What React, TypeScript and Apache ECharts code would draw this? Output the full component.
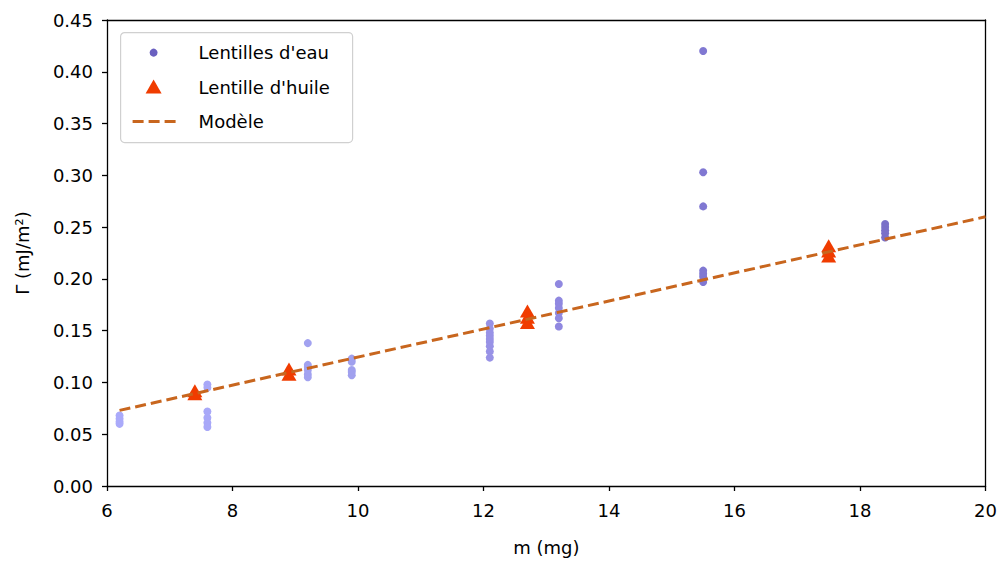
import React, { useEffect, useRef } from "react";
import * as echarts from "echarts";

// Water lenses: mass (mg) and surface energy (mJ/m²)
const waterMass = [6.2, 7.6, 9.2, 9.9, 12.1, 13.2, 15.5, 18.4];
const waterGamma: number[][] = [
  [0.068, 0.065, 0.062, 0.060],
  [0.098, 0.095, 0.072, 0.066, 0.061, 0.057],
  [0.138, 0.117, 0.115, 0.112, 0.108, 0.105],
  [0.123, 0.120, 0.112, 0.110, 0.107],
  [0.157, 0.152, 0.148, 0.145, 0.142, 0.139, 0.135, 0.130, 0.124],
  [0.195, 0.179, 0.176, 0.172, 0.167, 0.162, 0.154],
  [0.420, 0.303, 0.270, 0.208, 0.205, 0.202, 0.197],
  [0.253, 0.250, 0.247, 0.244, 0.240],
];
const waterColors = ["#aaaafa", "#a8a8f8", "#a2a2f0", "#a0a0ee", "#9892e6", "#9088e0", "#8078d2", "#7a70c8"];

// Oil lens
const oilMass = [7.4, 7.4, 8.9, 8.9, 12.7, 12.7, 12.7, 17.5, 17.5, 17.5];
const oilGamma = [0.092, 0.089, 0.113, 0.108, 0.169, 0.163, 0.158, 0.232, 0.227, 0.222];

// Model line
const modelMass = [6.2, 20];
const modelGamma = [0.073, 0.26];

const xTicks = [6, 8, 10, 12, 14, 16, 18, 20];
const yTicks = [0, 0.05, 0.1, 0.15, 0.2, 0.25, 0.3, 0.35, 0.4, 0.45];

const legendLabels = ["Lentilles d'eau", "Lentille d'huile", "Modèle"];

const FONT = "DejaVu Sans";
const FS = 18;

export default function App() {
  const ref = useRef<HTMLDivElement>(null);
  useEffect(() => {
    if (!ref.current) return;
    const chart = echarts.init(ref.current, null, { renderer: "svg" });

    const waterData: any[] = [];
    waterMass.forEach((m, i) => {
      waterGamma[i].forEach((g) => {
        waterData.push({ value: [m, g], itemStyle: { color: waterColors[i] } });
      });
    });
    const oilData = oilMass.map((m, i) => [m, oilGamma[i]]);
    const modelData = modelMass.map((m, i) => [m, modelGamma[i]]);

    const axisText = { color: "#000", fontFamily: FONT, fontSize: FS };
    const frameLine = { show: true, onZero: false, lineStyle: { color: "#000", width: 1.3 } };
    const xMin = xTicks[0];
    const xMax = xTicks[xTicks.length - 1];
    const yMin = yTicks[0];
    const yMax = yTicks[yTicks.length - 1];

    chart.setOption({
      animation: false,
      backgroundColor: "#fff",
      grid: { left: 107, right: 13, top: 20, bottom: 74 },
      xAxis: [
        {
          type: "value",
          min: xMin,
          max: xMax,
          interval: 2,
          name: "m (mg)",
          nameLocation: "middle",
          nameGap: 52,
          nameTextStyle: axisText,
          axisLine: frameLine,
          axisTick: { show: true, length: 5, lineStyle: { color: "#000", width: 1.3 } },
          axisLabel: { ...axisText, margin: 15 },
          splitLine: { show: false },
        },
        {
          type: "value",
          position: "top",
          min: xMin,
          max: xMax,
          axisLine: frameLine,
          axisTick: { show: false },
          axisLabel: { show: false },
          splitLine: { show: false },
        },
      ],
      yAxis: [
        {
          type: "value",
          min: yMin,
          max: yMax,
          interval: 0.05,
          name: "Γ (mJ/m²)",
          nameLocation: "middle",
          nameGap: 76,
          nameRotate: 90,
          nameTextStyle: axisText,
          axisLine: frameLine,
          axisTick: { show: true, length: 5, lineStyle: { color: "#000", width: 1.3 } },
          axisLabel: { ...axisText, margin: 14, formatter: (v: number) => v.toFixed(2) },
          splitLine: { show: false },
        },
        {
          type: "value",
          position: "right",
          min: yMin,
          max: yMax,
          axisLine: frameLine,
          axisTick: { show: false },
          axisLabel: { show: false },
          splitLine: { show: false },
        },
      ],
      series: [
        {
          name: legendLabels[0],
          type: "scatter",
          data: waterData,
          symbol: "circle",
          symbolSize: 8,
          itemStyle: { color: "#6a60c0", opacity: 1 },
          z: 2,
        },
        {
          name: legendLabels[1],
          type: "scatter",
          data: oilData,
          symbol: "triangle",
          symbolSize: [15, 13],
          itemStyle: { color: "#f03c00", opacity: 1 },
          z: 3,
        },
        {
          name: legendLabels[2],
          type: "line",
          data: modelData,
          showSymbol: false,
          symbol: "none",
          lineStyle: { color: "#c8661e", width: 3, type: [11, 5] },
          z: 4,
        },
      ],
      graphic: [
        {
          type: "group",
          left: 120,
          top: 32,
          children: [
            {
              type: "rect",
              shape: { x: 0, y: 0, width: 232, height: 110, r: 4 },
              style: { fill: "rgba(255,255,255,0.85)", stroke: "#d0d0d0", lineWidth: 1.2 },
            },
            { type: "circle", shape: { cx: 33, cy: 20, r: 4 }, style: { fill: "#6a60c0" } },
            {
              type: "polygon",
              shape: { points: [[33, 47], [41, 61], [25, 61]] },
              style: { fill: "#f03c00" },
            },
            {
              type: "line",
              shape: { x1: 12, y1: 89, x2: 56, y2: 89 },
              style: { stroke: "#c8661e", lineWidth: 3, lineDash: [11, 5] },
            },
            {
              type: "text",
              x: 78,
              y: 20,
              style: { text: legendLabels[0], fill: "#000", font: `${FS}px ${FONT}`, verticalAlign: "middle" },
            },
            {
              type: "text",
              x: 78,
              y: 55,
              style: { text: legendLabels[1], fill: "#000", font: `${FS}px ${FONT}`, verticalAlign: "middle" },
            },
            {
              type: "text",
              x: 78,
              y: 89,
              style: { text: legendLabels[2], fill: "#000", font: `${FS}px ${FONT}`, verticalAlign: "middle" },
            },
          ],
        },
      ],
    });

    return () => chart.dispose();
  }, []);

  return <div ref={ref} style={{ width: 1000, height: 561, position: "absolute", left: 0, top: 0 }} />;
}
